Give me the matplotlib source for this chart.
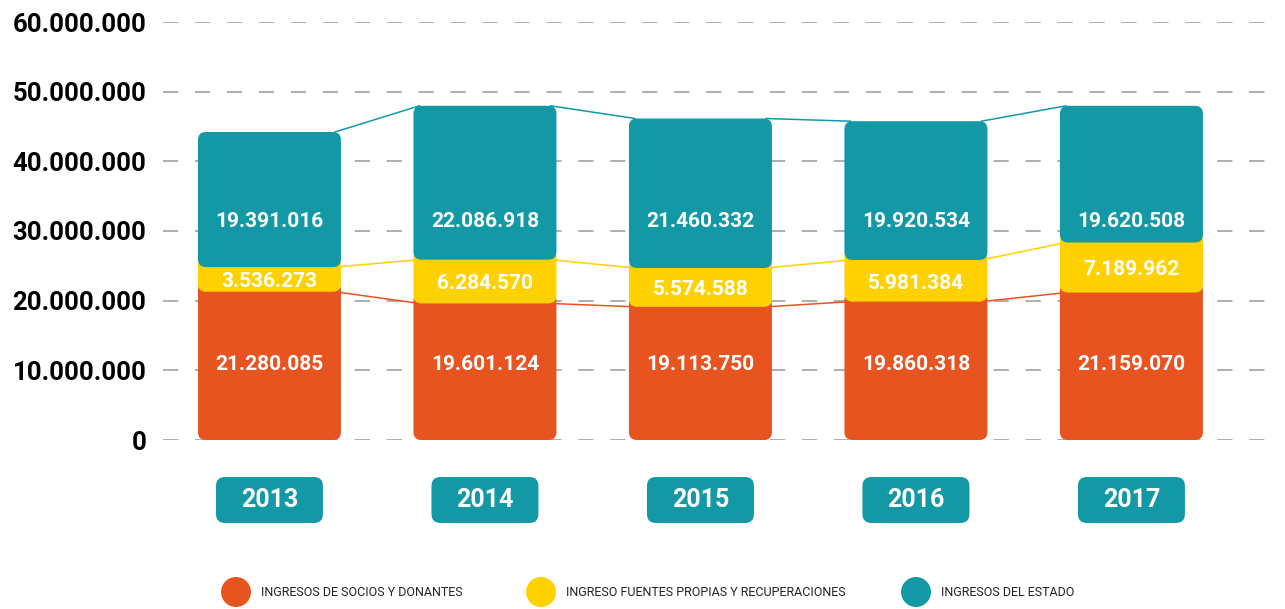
import matplotlib
matplotlib.use("Agg")
import matplotlib.pyplot as plt
from matplotlib.patches import FancyBboxPatch, Circle
import numpy as np

# datos
years = ["2013", "2014", "2015", "2016", "2017"]
socios = [21280085, 19601124, 19113750, 19860318, 21159070]
propias = [3536273, 6284570, 5574588, 5981384, 7189962]
estado = [19391016, 22086918, 21460332, 19920534, 19620508]

nombres = ["INGRESOS DE SOCIOS Y DONANTES",
           "INGRESO FUENTES PROPIAS Y RECUPERACIONES",
           "INGRESOS DEL ESTADO"]
colores = ["#E8541F", "#FFD100", "#1399A6"]
yticks = [0, 10000000, 20000000, 30000000, 40000000, 50000000, 60000000]


def fmt(v):
    return f"{v:,}".replace(",", ".")


plt.rcParams['font.family'] = ['Roboto', 'DejaVu Sans']
plt.rcParams['lines.scale_dashes'] = False

W, H = 1285, 609
fig = plt.figure(figsize=(W / 100, H / 100), dpi=100)
ax = fig.add_axes([163 / W, 169 / H, 1107 / W, 418 / H])
x0, x1 = -0.494, 4.643
ax.set_xlim(x0, x1)
ax.set_ylim(0, 60e6)

# pixeles por unidad
px_x = 1107 / (x1 - x0)
px_y = 418 / 60e6


def caja(xa, ya, w, h, color, r=8, z=2):
    # rectangulo redondeado, radio en pixeles
    p = FancyBboxPatch((xa, ya), w, h,
                       boxstyle=f"round,pad=0,rounding_size={r / px_x}",
                       mutation_aspect=px_x / px_y, fc=color, ec='none',
                       zorder=z, clip_on=False)
    ax.add_patch(p)


bw = 143 / px_x
ext = 10 / px_y
dentro = 6 / px_x
x = np.arange(len(years))
s = np.array(socios)
p = np.array(propias)
e = np.array(estado)
niveles = [s, s + p, s + p + e]
bases = [np.zeros(len(s)), s, s + p]

for k in range(3):
    for i in x:
        alto = niveles[k][i] - bases[k][i] + (ext if k < 2 else 0)
        caja(i - bw / 2, bases[k][i], bw, alto, colores[k], r=8, z=2 + k)
    # lineas entre barras (entran un poco bajo la barra)
    for i in x[:-1]:
        ax.plot([i + bw / 2 - dentro, i + 1 - bw / 2 + dentro],
                [niveles[k][i], niveles[k][i + 1]],
                color=colores[k], lw=1.1, zorder=1.5)

# etiquetas de valores
for i in x:
    ax.text(i, 10.8e6, fmt(socios[i]), ha='center', va='center', color='white',
            fontsize=15, fontweight='bold', zorder=10)
    ax.text(i, s[i] + p[i] / 2 - 0.35e6, fmt(propias[i]), ha='center', va='center',
            color='white', fontsize=15, fontweight='bold', zorder=10)
    ax.text(i, 31.4e6, fmt(estado[i]), ha='center', va='center', color='white',
            fontsize=15, fontweight='bold', zorder=10)

# cajas de los años
for i in x:
    caja(i - 53.5 / px_x, -83 / px_y, 107 / px_x, 46 / px_y, colores[2], r=9, z=5)
    ax.text(i, -60 / px_y, years[i], ha='center', va='center', color='white',
            fontsize=18, fontweight='bold', zorder=10, clip_on=False)

ax.set_yticks(yticks)
ax.set_yticklabels([fmt(v) for v in yticks], fontsize=18.5, fontweight='bold')
ax.set_xticks([])
ax.tick_params(axis='y', length=0, pad=12)
ax.yaxis.grid(True, color='#a8a8a8', lw=1.3, ls=(0, (11, 12)))
ax.set_axisbelow(True)
for sp in ax.spines.values():
    sp.set_visible(False)

# leyenda
lg = fig.add_axes([0, 0, 1, 1])
lg.set_xlim(0, W)
lg.set_ylim(H, 0)
lg.axis('off')
for cx, nom, col in zip([236, 541, 916], nombres, colores):
    lg.add_patch(Circle((cx, 592), 15, fc=col, ec='none'))
    lg.text(cx + 25, 593, nom, va='center', ha='left', fontsize=9, color='#222222')

fig.savefig("out.png", dpi=100)
